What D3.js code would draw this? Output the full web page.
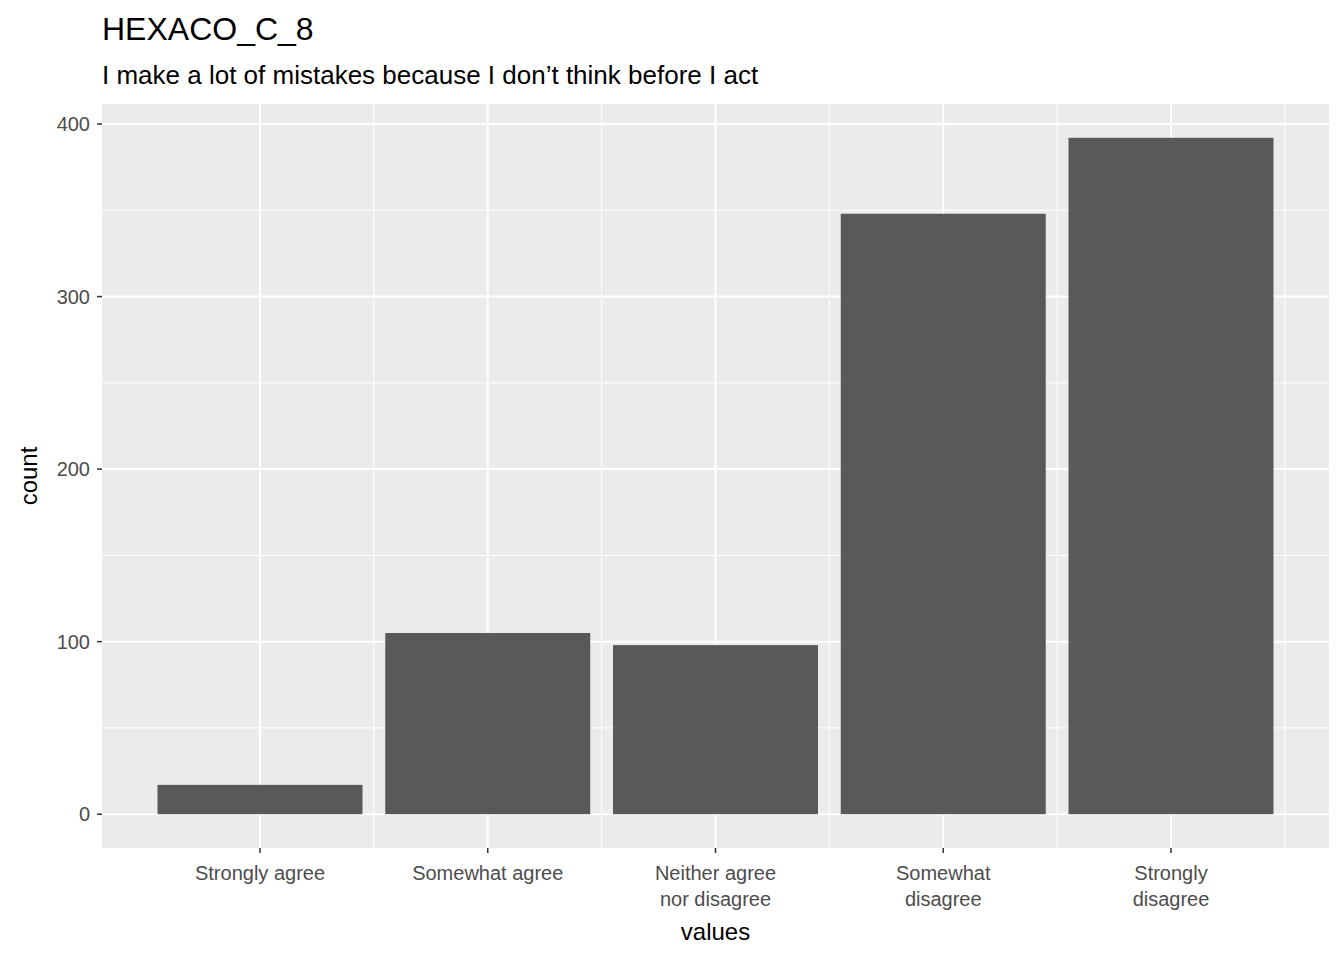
<!DOCTYPE html>
<html><head><meta charset="utf-8">
<script src="https://cdn.jsdelivr.net/npm/d3@7"></script>
<style>body{margin:0;background:#fff}text{font-family:"Liberation Sans",Arial,sans-serif}</style>
</head><body><svg id="chart" width="1344" height="960"></svg>
<script>
var categories = [["Strongly agree"], ["Somewhat agree"], ["Neither agree", "nor disagree"], ["Somewhat", "disagree"], ["Strongly", "disagree"]];
var counts = [17, 105, 98, 348, 392];
var yTicks = [0, 100, 200, 300, 400];

var panel = {left: 102, right: 1329, top: 104, bottom: 848};
var svg = d3.select("#chart");

var x = d3.scaleLinear().domain([0, 4]).range([260, 1171]);
var step = x(1) - x(0);
var y = d3.scaleLinear().domain([-19.6, 411.6]).range([panel.bottom, panel.top]);

svg.append("rect").attr("x", panel.left).attr("y", panel.top)
  .attr("width", panel.right - panel.left).attr("height", panel.bottom - panel.top)
  .attr("fill", "#ebebeb");

// minor grid
[50, 150, 250, 350].forEach(function(v){
  svg.append("line").attr("x1", panel.left).attr("x2", panel.right)
    .attr("y1", y(v)).attr("y2", y(v)).attr("stroke", "#fff").attr("stroke-width", 1);
});
[0.5, 1.5, 2.5, 3.5, 4.5].forEach(function(v){
  svg.append("line").attr("y1", panel.top).attr("y2", panel.bottom)
    .attr("x1", x(v)).attr("x2", x(v)).attr("stroke", "#fff").attr("stroke-width", 1);
});
yTicks.forEach(function(v){
  svg.append("line").attr("x1", panel.left).attr("x2", panel.right)
    .attr("y1", y(v)).attr("y2", y(v)).attr("stroke", "#fff").attr("stroke-width", 2);
});
categories.forEach(function(c, i){
  svg.append("line").attr("y1", panel.top).attr("y2", panel.bottom)
    .attr("x1", x(i)).attr("x2", x(i)).attr("stroke", "#fff").attr("stroke-width", 2);
});

svg.selectAll(".bar").data(counts).enter().append("rect")
  .attr("x", function(d, i){ return x(i) - step * 0.45; })
  .attr("width", step * 0.9)
  .attr("y", function(d){ return y(d); })
  .attr("height", function(d){ return y(0) - y(d); })
  .attr("fill", "#595959");

// y axis
yTicks.forEach(function(v){
  svg.append("line").attr("x1", panel.left - 5).attr("x2", panel.left)
    .attr("y1", y(v)).attr("y2", y(v)).attr("stroke", "#333").attr("stroke-width", 1.5);
  svg.append("text").attr("x", panel.left - 12).attr("y", y(v)).attr("dy", "0.35em")
    .attr("text-anchor", "end").attr("font-size", 20).attr("fill", "#4d4d4d").text(v);
});
// x axis
categories.forEach(function(c, i){
  svg.append("line").attr("y1", panel.bottom).attr("y2", panel.bottom + 5)
    .attr("x1", x(i)).attr("x2", x(i)).attr("stroke", "#333").attr("stroke-width", 1.5);
  c.forEach(function(line, j){
    svg.append("text").attr("x", x(i)).attr("y", 880 + j * 26)
      .attr("text-anchor", "middle").attr("font-size", 20).attr("fill", "#4d4d4d").text(line);
  });
});

svg.append("text").attr("x", (panel.left + panel.right) / 2).attr("y", 940)
  .attr("text-anchor", "middle").attr("font-size", 24).text("values");
svg.append("text").attr("transform", "translate(37," + (panel.top + panel.bottom) / 2 + ")rotate(-90)")
  .attr("text-anchor", "middle").attr("font-size", 24).text("count");
svg.append("text").attr("x", 102).attr("y", 40).attr("font-size", 32).text("HEXACO_C_8");
svg.append("text").attr("x", 102).attr("y", 84).attr("font-size", 26)
  .text("I make a lot of mistakes because I don\u2019t think before I act");
</script></body></html>
